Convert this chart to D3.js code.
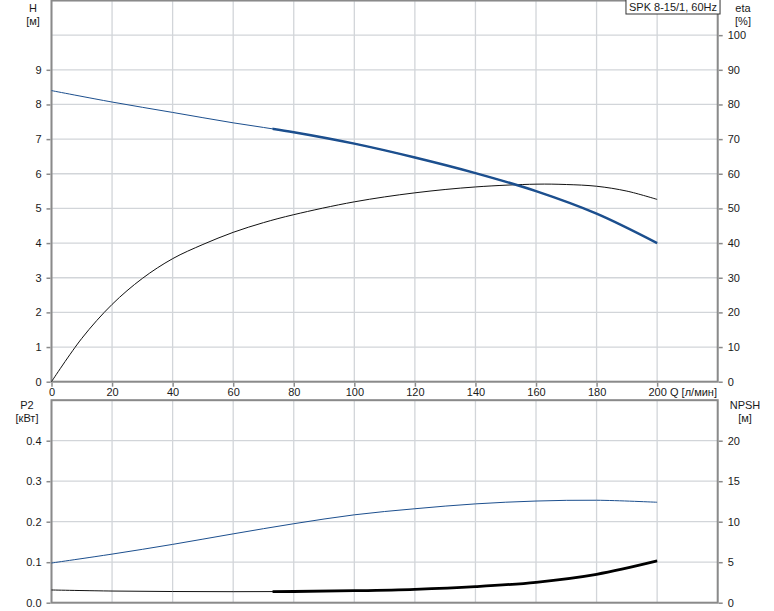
<!DOCTYPE html>
<html><head><meta charset="utf-8">
<script src="https://cdn.jsdelivr.net/npm/d3@7"></script>
<style>
body{margin:0;background:#fff;}
svg{display:block;font-family:Arial,"Liberation Sans",sans-serif;font-size:11px;}
</style></head><body>
<script>
// ---- data ----
const qTicks = [0,20,40,60,80,100,120,140,160,180,200];
const hTicks = [0,1,2,3,4,5,6,7,8,9];
const etaTicks = [0,10,20,30,40,50,60,70,80,90,100];
const p2Ticks = [0.0,0.1,0.2,0.3,0.4];
const npshTicks = [0,5,10,15,20];

const qH   = [0,20,40,60,80,100,120,140,160,180,200];
const hVal = [8.4,8.07,7.77,7.47,7.2,6.87,6.47,6.02,5.5,4.85,4.0];

const qEta   = [0,10,20,30,40,50,60,70,80,100,120,140,160,170,180,190,200];
const etaVal = [0,12.5,22.3,29.8,35.5,39.6,43.1,45.9,48.2,51.9,54.5,56.2,57.0,56.9,56.4,55.0,52.6];

const qP2   = [0,20,40,60,80,100,120,140,160,180,200];
const p2Val = [0.098,0.12,0.144,0.17,0.195,0.217,0.232,0.244,0.251,0.253,0.248];

const qNpsh   = [0,20,40,60,80,100,120,140,160,180,200];
const npshVal = [1.57,1.44,1.38,1.36,1.38,1.48,1.65,1.98,2.52,3.5,5.15];

const thickFrom = 73; // start of thick (operating) part of H and NPSH curves
const title = "SPK 8-15/1, 60Hz";

// ---- layout ----
const W=774,H=611;
const svg=d3.select("body").append("svg").attr("width",W).attr("height",H);
const x=d3.scaleLinear().domain([0,220]).range([51.5,717.7]);
const yH=d3.scaleLinear().domain([0,11]).range([381.7,0.5]);
const yEta=d3.scaleLinear().domain([0,110]).range([381.7,0.5]);
const yP2=d3.scaleLinear().domain([0,0.5]).range([602.7,400.2]);
const yN=d3.scaleLinear().domain([0,25]).range([602.7,400.2]);

const gridC="#d2d5d9", axisC="#8a8a8a", blue="#1c4f8e", textC="#1a1a1a";
const vGrid=[0,20,40,60,80,100,120,140,160,180,200,220];

function panel(y, hGridVals){
  const g=svg.append("g");
  g.selectAll(".v").data(vGrid).join("line")
    .attr("x1",d=>x(d)).attr("x2",d=>x(d))
    .attr("y1",y.range()[1]).attr("y2",y.range()[0])
    .attr("stroke",gridC).attr("stroke-width",1.3);
  g.selectAll(".h").data(hGridVals).join("line")
    .attr("x1",x.range()[0]).attr("x2",x.range()[1])
    .attr("y1",d=>y(d)).attr("y2",d=>y(d))
    .attr("stroke",gridC).attr("stroke-width",1.3);
  g.append("rect").attr("x",x.range()[0]).attr("y",y.range()[1])
   .attr("width",x.range()[1]-x.range()[0]).attr("height",y.range()[0]-y.range()[1])
   .attr("fill","none").attr("stroke",axisC).attr("stroke-width",2);
}
panel(yH, d3.range(0,12,1));
panel(yP2, [0,0.1,0.2,0.3,0.4,0.5]);

function styleAxis(g){
  g.select(".domain").remove();
  g.selectAll(".tick line").attr("stroke",axisC).attr("stroke-width",1.5);
  g.selectAll(".tick text").attr("fill",textC).style("font-size","11px")
   .style("font-family","Arial, 'Liberation Sans', sans-serif");
}
svg.append("g").attr("transform",`translate(${x.range()[0]-1},0)`)
  .call(d3.axisLeft(yH).tickValues(hTicks).tickSize(4).tickPadding(5).tickFormat(d3.format("d"))).call(styleAxis);
svg.append("g").attr("transform",`translate(${x.range()[1]+1},0)`)
  .call(d3.axisRight(yEta).tickValues(etaTicks).tickSize(4).tickPadding(5).tickFormat(d3.format("d"))).call(styleAxis);
svg.append("g").attr("transform",`translate(0,${yH(0)+1})`)
  .call(d3.axisBottom(x).tickValues(qTicks).tickSize(4).tickPadding(2).tickFormat(d3.format("d"))).call(styleAxis);
svg.append("g").attr("transform",`translate(${x.range()[0]-1},0)`)
  .call(d3.axisLeft(yP2).tickValues(p2Ticks).tickSize(4).tickPadding(5).tickFormat(d3.format(".1f"))).call(styleAxis);
svg.append("g").attr("transform",`translate(${x.range()[1]+1},0)`)
  .call(d3.axisRight(yN).tickValues(npshTicks).tickSize(4).tickPadding(5).tickFormat(d3.format("d"))).call(styleAxis);

function label(tx,ty,t,anchor){
  svg.append("text").attr("x",tx).attr("y",ty).attr("text-anchor",anchor||"middle")
   .attr("fill",textC).style("font-size","11px").text(t);
}
label(33,12,"H"); label(33,25,"[м]");
label(743,12,"eta"); label(743,25,"[%]");
label(27,409,"P2"); label(27,422,"[кВт]");
label(745,409,"NPSH"); label(745,422,"[м]");
label(670,396,"Q [л/мин]","start");

const tb=svg.append("g");
const tt=tb.append("text").attr("x",673).attr("y",11).attr("text-anchor","middle")
  .attr("fill",textC).style("font-size","11px").text(title);
const bb=tt.node().getBBox();
tb.insert("rect","text").attr("x",bb.x-3).attr("y",-1).attr("width",bb.width+6).attr("height",15)
  .attr("fill","#fff").attr("stroke","#333").attr("stroke-width",1);

const defs=svg.append("defs");
defs.append("clipPath").attr("id","thickU").append("rect")
  .attr("x",x(thickFrom)).attr("y",0).attr("width",x(200)-x(thickFrom)+3).attr("height",390);
defs.append("clipPath").attr("id","thickL").append("rect")
  .attr("x",x(thickFrom)).attr("y",395).attr("width",x(200)-x(thickFrom)+3).attr("height",215);

function curve(qs,vs,y){
  return d3.line().x(d=>x(d[0])).y(d=>y(d[1])).curve(d3.curveCatmullRom.alpha(0.5))(qs.map((q,i)=>[q,vs[i]]));
}
svg.append("path").attr("d",curve(qEta,etaVal,yEta)).attr("fill","none").attr("stroke","#111").attr("stroke-width",1);
svg.append("path").attr("d",curve(qH,hVal,yH)).attr("fill","none").attr("stroke",blue).attr("stroke-width",1);
svg.append("path").attr("d",curve(qH,hVal,yH)).attr("fill","none").attr("stroke",blue).attr("stroke-width",2.5).attr("clip-path","url(#thickU)");
svg.append("path").attr("d",curve(qP2,p2Val,yP2)).attr("fill","none").attr("stroke",blue).attr("stroke-width",1);
svg.append("path").attr("d",curve(qNpsh,npshVal,yN)).attr("fill","none").attr("stroke","#111").attr("stroke-width",1);
svg.append("path").attr("d",curve(qNpsh,npshVal,yN)).attr("fill","none").attr("stroke","#000").attr("stroke-width",2.8).attr("clip-path","url(#thickL)");
</script>
</body></html>
